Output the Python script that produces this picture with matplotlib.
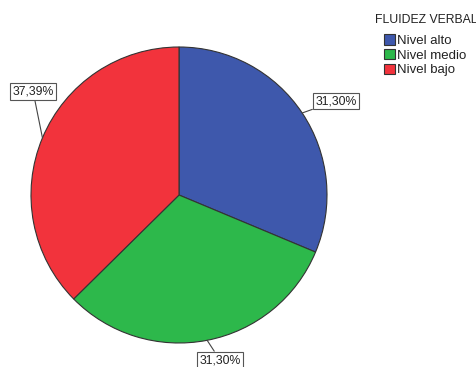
import numpy as np
import matplotlib.pyplot as plt

plt.rcParams['font.family'] = ['Liberation Sans', 'DejaVu Sans']

# Data
categories = ['Nivel alto', 'Nivel medio', 'Nivel bajo']
percentages = [31.30, 31.30, 37.39]
colors = ['#3e58ac', '#2db84b', '#f2333c']
label_pos = [(1.06, 0.635), (0.277, -1.115), (-0.986, 0.70)]

fig = plt.figure(figsize=(4.77, 3.67), dpi=100)
ax = fig.add_axes([31 / 477, 24 / 367, 296 / 477, 296 / 367])

wedges, _ = ax.pie(percentages, colors=colors, startangle=90, counterclock=False,
                   radius=1.0, wedgeprops=dict(edgecolor='#333333', linewidth=0.8))
ax.set_xlim(-1, 1)
ax.set_ylim(-1, 1)
ax.set_aspect('equal')

for w, p, pos in zip(wedges, percentages, label_pos):
    ang = np.deg2rad((w.theta1 + w.theta2) / 2)
    edge = (np.cos(ang), np.sin(ang))
    txt = ('%.2f%%' % p).replace('.', ',')
    ax.annotate(txt, xy=edge, xytext=pos, ha='center', va='center', fontsize=8.8,
                color='#222222', annotation_clip=False,
                bbox=dict(boxstyle='square,pad=0.2', fc='white', ec='#555555', lw=0.8),
                arrowprops=dict(arrowstyle='-', color='#444444', lw=0.8,
                                shrinkA=0, shrinkB=0))

# legend title and entries
fig.text(375 / 477, 1 - 20 / 367, 'FLUIDEZ VERBAL', ha='left', va='center',
         fontsize=8.8, color='#222222')
leg = fig.legend(wedges, categories, loc='upper left',
                 bbox_to_anchor=(384 / 477, 1 - 34 / 367), frameon=False, fontsize=9.5,
                 handlelength=0.85, handleheight=0.85,
                 handletextpad=0.1, labelspacing=0.15, borderaxespad=0, borderpad=0)
for t in leg.get_texts():
    t.set_color('#222222')
for h in leg.legend_handles:
    h.set_edgecolor('#333333')
    h.set_linewidth(0.8)

fig.savefig('out.png', dpi=100)
